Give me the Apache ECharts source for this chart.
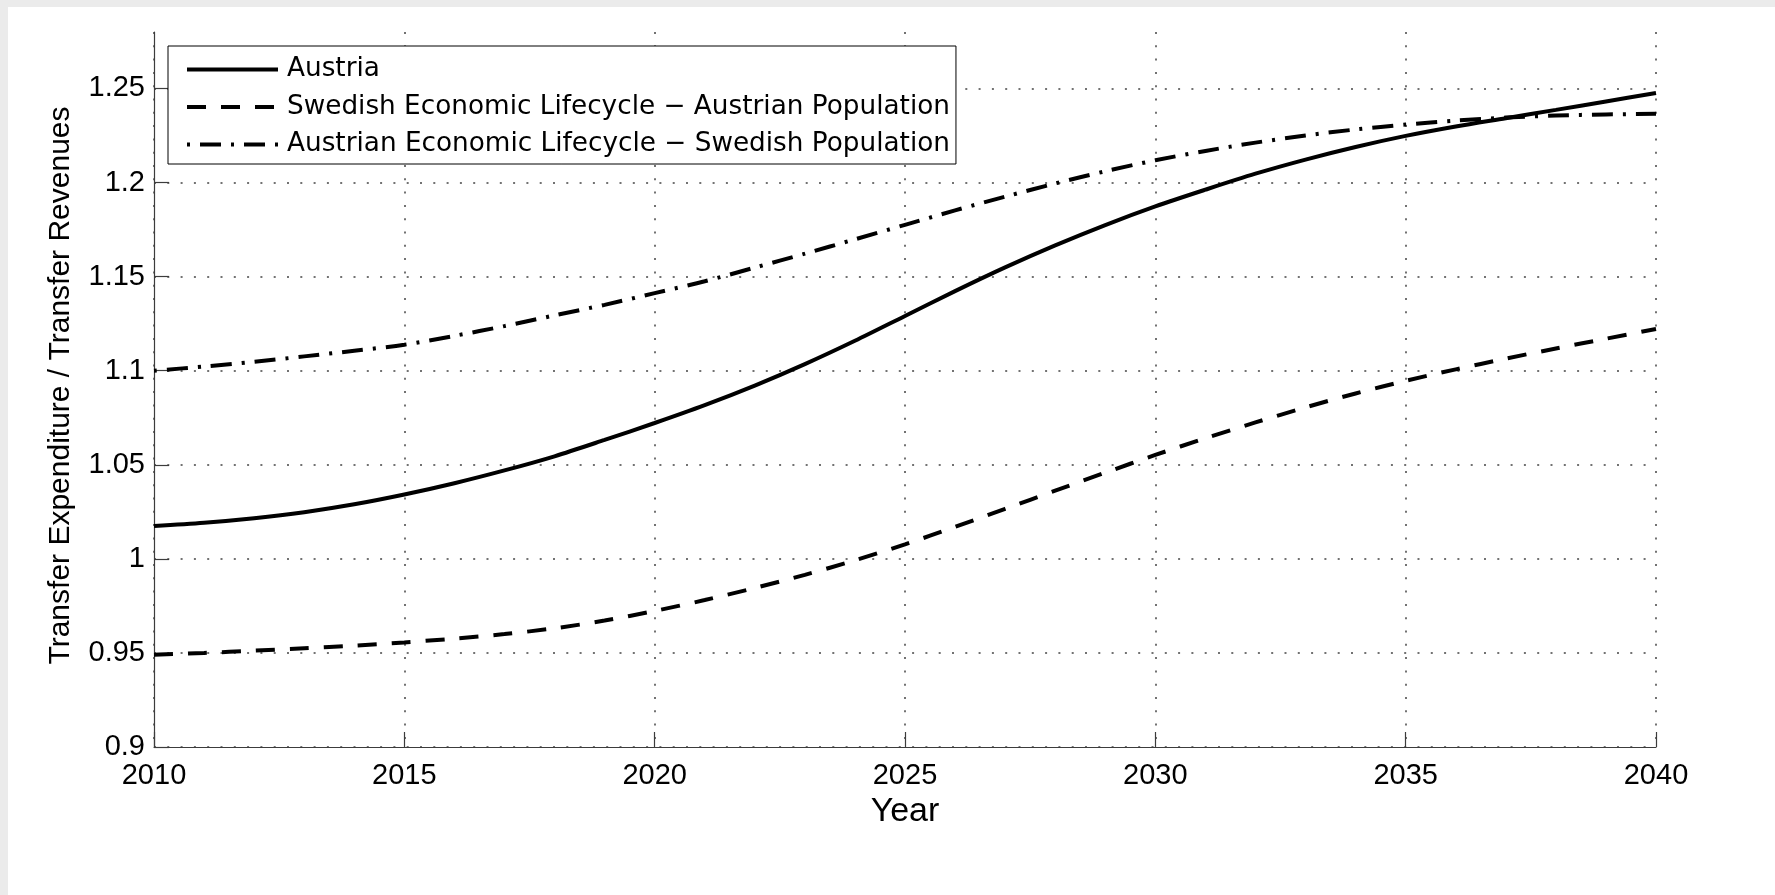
<!DOCTYPE html>
<html>
<head>
<meta charset="utf-8">
<script src="https://cdn.jsdelivr.net/npm/echarts@6/dist/echarts.min.js"></script>
<style>
  html, body { margin: 0; padding: 0; background: #ebebeb; width: 1775px; height: 895px; overflow: hidden; }
  #chart { position: absolute; left: 8px; top: 7px; width: 1767px; height: 888px; background: #ffffff; }
</style>
</head>
<body>
<div id="chart"></div>
<script>
const years = [2010, 2011, 2012, 2013, 2014, 2015, 2016, 2017, 2018, 2019,
               2020, 2021, 2022, 2023, 2024, 2025, 2026, 2027, 2028, 2029,
               2030, 2031, 2032, 2033, 2034, 2035, 2036, 2037, 2038, 2039, 2040];

const austria = [1.0175, 1.0192, 1.0216, 1.0248, 1.0290, 1.0342, 1.0402, 1.0470, 1.0545, 1.0632,
                 1.0722, 1.0817, 1.0921, 1.1035, 1.1159, 1.1291, 1.1423, 1.1549, 1.1666, 1.1774,
                 1.1873, 1.1962, 1.2047, 1.2122, 1.2189, 1.2248, 1.2298, 1.2342, 1.2386, 1.2431, 1.2476];

const swedishLifecycleAustrianPop = [0.9490, 0.9500, 0.9512, 0.9525, 0.9539, 0.9556, 0.9576, 0.9600, 0.9631, 0.9672,
                                     0.9723, 0.9781, 0.9845, 0.9915, 0.9992, 1.0077, 1.0170, 1.0266, 1.0362, 1.0458,
                                     1.0552, 1.0641, 1.0725, 1.0805, 1.0879, 1.0946, 1.1007, 1.1064, 1.1118, 1.1170, 1.1222];

const austrianLifecycleSwedishPop = [1.1000, 1.1022, 1.1047, 1.1076, 1.1106, 1.1138, 1.1185, 1.1237, 1.1294, 1.1350,
                                     1.1412, 1.1475, 1.1548, 1.1622, 1.1698, 1.1775, 1.1852, 1.1925, 1.1995, 1.2060,
                                     1.2118, 1.2168, 1.2212, 1.2250, 1.2282, 1.2308, 1.2329, 1.2345, 1.2356, 1.2362, 1.2365];

const seriesNames = ['Austria',
                     'Swedish Economic Lifecycle \u2212 Austrian Population',
                     'Austrian Economic Lifecycle \u2212 Swedish Population'];

const xTicks = [2010, 2015, 2020, 2025, 2030, 2035, 2040];
const yTicks = [0.9, 0.95, 1, 1.05, 1.1, 1.15, 1.2, 1.25];

const xTitle = 'Year';
const yTitle = 'Transfer Expenditure / Transfer Revenues';

function pairs(vals) { return years.map((y, i) => [y, vals[i]]); }

const axisColor = '#3c3c3c';
const gridStyle = { color: '#444444', width: 1.5, type: [2, 11.3] };
const tickFont = { fontFamily: 'Liberation Sans, Arial, sans-serif', fontSize: 29, color: '#000' };
const lineW = 4;

const chart = echarts.init(document.getElementById('chart'), null, { renderer: 'canvas' });
chart.setOption({
  animation: false,
  backgroundColor: '#ffffff',
  grid: { left: 146, right: 119, top: 25, bottom: 148, containLabel: false },
  legend: {
    data: seriesNames,
    orient: 'vertical',
    left: 160,
    top: 39,
    itemWidth: 91,
    itemHeight: 14,
    itemGap: 11.5,
    padding: [10.5, 6, 6.5, 17],
    borderColor: '#000',
    borderWidth: 1,
    borderRadius: 0,
    backgroundColor: '#ffffff',
    selectedMode: false,
    itemStyle: { opacity: 0 },
    lineStyle: { width: lineW, color: '#000' },
    textStyle: { fontFamily: 'DejaVu Sans, sans-serif', fontSize: 26.3, color: '#000', lineHeight: 26, padding: [0, 0, 0, 4] }
  },
  xAxis: {
    type: 'value',
    min: 2010,
    max: 2040,
    interval: 5,
    name: xTitle,
    nameLocation: 'middle',
    nameGap: 48,
    nameTextStyle: { fontFamily: 'Liberation Sans, Arial, sans-serif', fontSize: 34, color: '#000' },
    axisLine: { show: true, onZero: false, lineStyle: { color: axisColor, width: 1.2 } },
    axisTick: { show: true, inside: true, length: 15, customValues: xTicks, lineStyle: { color: axisColor, width: 1.2 } },
    axisLabel: Object.assign({ margin: 14, customValues: xTicks, formatter: v => String(v) }, tickFont),
    splitLine: { show: true, lineStyle: gridStyle }
  },
  yAxis: {
    type: 'value',
    min: 0.9,
    max: 1.28,
    interval: 0.05,
    name: yTitle,
    nameLocation: 'middle',
    nameGap: 78.5,
    nameTextStyle: { fontFamily: 'Liberation Sans, Arial, sans-serif', fontSize: 30, color: '#000', padding: [0, 0, 0, 8] },
    axisLine: { show: true, onZero: false, lineStyle: { color: axisColor, width: 1.2 } },
    axisTick: { show: true, inside: true, length: 15, customValues: yTicks, lineStyle: { color: axisColor, width: 1.2 } },
    axisLabel: Object.assign({ margin: 9, customValues: yTicks }, tickFont),
    splitLine: { show: true, lineStyle: gridStyle }
  },
  series: [
    {
      name: seriesNames[0], type: 'line', data: pairs(austria),
      symbol: 'none', showSymbol: false, smooth: 0.3, z: 3,
      lineStyle: { color: '#000', width: lineW, type: 'solid' },
      itemStyle: { color: '#000' }
    },
    {
      name: seriesNames[1], type: 'line', data: pairs(swedishLifecycleAustrianPop),
      symbol: 'none', showSymbol: false, smooth: 0.3, z: 3,
      lineStyle: { color: '#000', width: lineW, type: [19, 15] },
      itemStyle: { color: '#000' }
    },
    {
      name: seriesNames[2], type: 'line', data: pairs(austrianLifecycleSwedishPop),
      symbol: 'none', showSymbol: false, smooth: 0.3, z: 3,
      lineStyle: { color: '#000', width: lineW, type: [3, 10, 21, 10] },
      itemStyle: { color: '#000' }
    }
  ]
});
</script>
</body>
</html>
